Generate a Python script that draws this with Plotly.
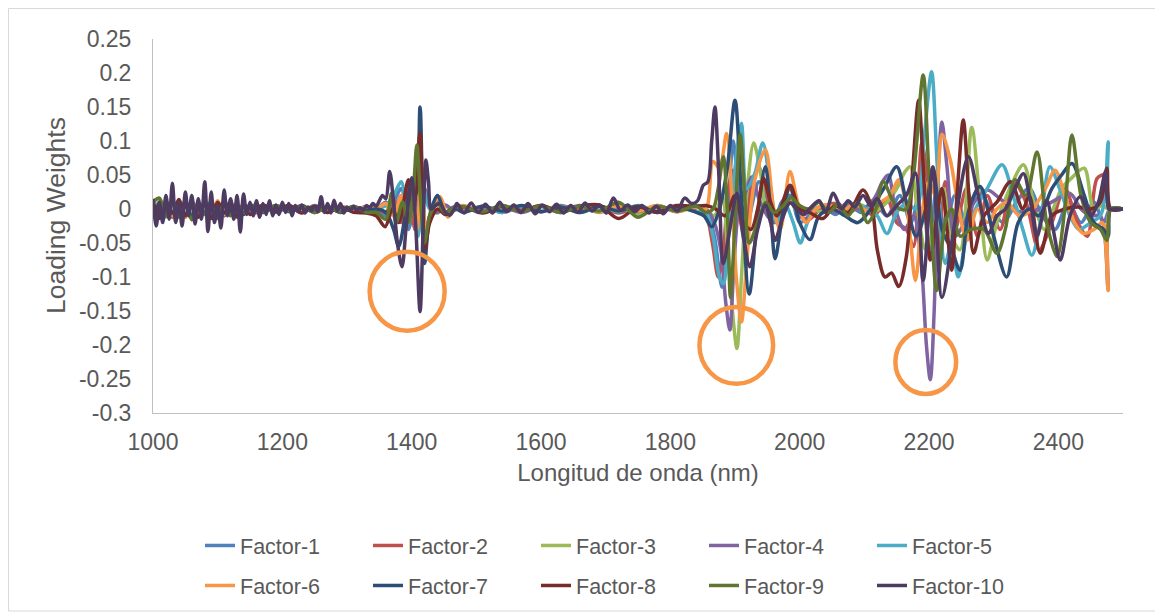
import plotly.graph_objects as go

# ---------------- data ----------------
factor_names = ["Factor-1", "Factor-2", "Factor-3", "Factor-4", "Factor-5",
                "Factor-6", "Factor-7", "Factor-8", "Factor-9", "Factor-10"]
colors = ["#4F81BD", "#C0504D", "#9BBB59", "#8064A2", "#4BACC6",
          "#F79646", "#2C4D75", "#772C2A", "#5F7530", "#4D3B62"]

x_ticks = [1000, 1200, 1400, 1600, 1800, 2000, 2200, 2400]
y_ticks = [0.25, 0.2, 0.15, 0.1, 0.05, 0, -0.05, -0.1, -0.15, -0.2, -0.25, -0.3]
y_ticktext = ["0.25", "0.2", "0.15", "0.1", "0.05", "0", "-0.05", "-0.1", "-0.15", "-0.2", "-0.25", "-0.3"]

# sampling grids (nm)
wl_noise = list(range(1000, 1151, 10))   # 16 samples
wl_flat = list(range(1170, 1331, 20))    # 9 samples
wl_mid = list(range(1480, 1841, 30))     # 13 samples

# ---- Factor-1 ----
f1_noise = [0.01, -0.012, 0.008, -0.01, 0.012, -0.008, 0.006, -0.012, 0.01, -0.006, 0.009, -0.01, 0.007, -0.009, 0.005, -0.006]
f1_flat = [0.004, -0.005, 0.003, -0.004, 0.005, -0.003, 0.004, -0.002, 0.003]
f1_b_wl = [1345, 1360, 1372, 1384, 1395, 1405, 1413, 1420, 1428, 1440, 1452, 1465]
f1_b = [0.0, -0.01, 0.01, 0.03, -0.03, 0.02, 0.06, -0.06, -0.01, 0.012, -0.008, 0.003]
f1_mid = [0.004, -0.004, 0.005, -0.003, 0.004, -0.005, 0.003, -0.004, 0.006, -0.003, 0.004, -0.004, 0.005]
f1_de_wl = [1855, 1868, 1880, 1888, 1897, 1906, 1915, 1925, 1937, 1948, 1960, 1972, 1985, 2000, 2015,
            2035, 2055, 2075, 2095, 2115, 2135, 2155, 2172, 2188, 2200, 2212, 2225, 2240, 2258, 2276,
            2295, 2315, 2335, 2355, 2375, 2395, 2415, 2435, 2455, 2470, 2480, 2500]
f1_de = [0.0, -0.04, -0.115, -0.04, 0.1, 0.02, -0.05, 0.0, 0.04, 0.02, -0.02, 0.01, 0.02, -0.02, -0.01,
         0.005, -0.008, 0.006, -0.005, 0.01, -0.01, 0.02, -0.02, 0.04, -0.06, 0.03, -0.03, 0.02, -0.02, 0.03,
         0.0, -0.02, 0.01, 0.03, -0.01, -0.03, 0.01, -0.02, 0.01, -0.02, 0.0, 0.0]

# ---- Factor-2 ----
f2_noise = [0.012, -0.008, 0.01, -0.012, 0.006, -0.01, 0.012, -0.006, 0.008, -0.01, 0.006, -0.008, 0.01, -0.005, 0.007, -0.004]
f2_flat = [-0.004, 0.005, -0.003, 0.004, -0.005, 0.003, -0.004, 0.003, -0.002]
f2_b_wl = [1345, 1360, 1372, 1384, 1395, 1405, 1413, 1420, 1428, 1440, 1452, 1465]
f2_b = [0.0, -0.005, 0.015, -0.02, 0.03, -0.03, 0.11, -0.04, -0.01, 0.01, -0.005, 0.002]
f2_mid = [-0.003, 0.004, -0.005, 0.003, -0.004, 0.005, -0.003, 0.004, -0.006, 0.003, -0.005, 0.004, -0.003]
f2_de_wl = [1855, 1865, 1874, 1882, 1890, 1897, 1905, 1915, 1926, 1937, 1948, 1960, 1972, 1985, 2000, 2015,
            2035, 2055, 2075, 2095, 2115, 2135, 2150, 2165, 2176, 2189, 2200, 2212, 2225, 2240, 2258,
            2275, 2290, 2310, 2330, 2350, 2370, 2390, 2410, 2430, 2445, 2460, 2472, 2480, 2500]
f2_de = [-0.01, -0.05, -0.1, -0.06, 0.03, 0.057, 0.0, -0.04, 0.04, 0.06, 0.03, -0.02, 0.0, 0.03, -0.01, -0.015,
         0.003, 0.008, -0.006, 0.005, -0.01, 0.015, -0.02, -0.03, -0.055, 0.097, 0.02, -0.08, 0.04, -0.03, 0.03,
         -0.04, 0.02, -0.03, 0.04, 0.01, -0.06, -0.02, 0.03, -0.02, -0.04, 0.045, 0.05, 0.0, 0.0]

# ---- Factor-3 ----
f3_noise = [-0.01, 0.012, -0.006, 0.01, -0.012, 0.008, -0.01, 0.006, -0.008, 0.012, -0.005, 0.008, -0.006, 0.004, -0.007, 0.005]
f3_flat = [0.003, -0.004, 0.005, -0.003, 0.004, -0.004, 0.003, -0.003, 0.002]
f3_b_wl = [1345, 1360, 1372, 1384, 1395, 1405, 1413, 1420, 1428, 1440, 1452, 1465]
f3_b = [0.0, 0.005, -0.01, 0.015, -0.02, 0.03, -0.02, 0.02, 0.0, -0.006, 0.004, -0.002]
f3_mid = [0.003, -0.005, 0.004, -0.003, 0.005, -0.004, 0.004, -0.005, 0.003, -0.008, 0.004, -0.003, 0.004]
f3_de_wl = [1855, 1868, 1880, 1888, 1896, 1903, 1910, 1918, 1929, 1940, 1950, 1960, 1972, 1985, 2000, 2015,
            2035, 2055, 2075, 2095, 2115, 2135, 2150, 2163, 2171, 2182, 2195, 2210, 2222, 2235, 2248,
            2266, 2278, 2290, 2305, 2325, 2346, 2362, 2378, 2392, 2405, 2420, 2440, 2455, 2468, 2477, 2500]
f3_de = [0.0, -0.01, 0.02, -0.05, -0.15, -0.205, -0.1, 0.02, 0.097, 0.05, -0.01, -0.016, 0.0, 0.013, -0.01, 0.0,
         -0.004, 0.005, 0.0, 0.006, -0.004, 0.01, 0.03, 0.055, 0.062, 0.0, -0.06, -0.02, 0.03, -0.04, -0.06,
         0.12, 0.02, -0.075, -0.02, 0.03, 0.065, 0.01, -0.03, 0.0, 0.03, 0.045, 0.06, 0.0, 0.005, 0.0, 0.0]

# ---- Factor-4 ----
f4_noise = [0.008, -0.01, 0.012, -0.008, 0.006, -0.012, 0.01, -0.008, 0.012, -0.006, 0.008, -0.01, 0.006, -0.008, 0.005, -0.004]
f4_flat = [0.005, -0.003, 0.004, -0.005, 0.003, -0.004, 0.002, -0.003, 0.004]
f4_b_wl = [1345, 1360, 1372, 1384, 1395, 1405, 1413, 1420, 1428, 1440, 1452, 1465]
f4_b = [0.0, 0.01, -0.005, 0.02, -0.015, 0.02, -0.03, 0.03, 0.005, -0.005, 0.006, -0.002]
f4_mid = [0.004, -0.003, 0.003, -0.005, 0.004, -0.003, 0.005, -0.004, 0.003, -0.004, 0.005, -0.003, 0.004]
f4_de_wl = [1855, 1868, 1878, 1886, 1892, 1898, 1906, 1915, 1926, 1937, 1950, 1962, 1975, 1988, 2000, 2015,
            2035, 2055, 2075, 2095, 2115, 2128, 2137, 2148, 2162, 2176, 2188, 2196, 2202, 2208, 2214, 2220,
            2228, 2240, 2255, 2270, 2290, 2310, 2330, 2350, 2370, 2395, 2418, 2435, 2450, 2465, 2472, 2477,
            2481, 2500]
f4_de = [0.0, -0.02, -0.06, -0.14, -0.178, -0.09, 0.0, 0.02, 0.047, 0.015, -0.01, -0.02, 0.0, 0.01, -0.01, -0.005,
         0.004, -0.005, 0.01, 0.0, 0.015, 0.04, 0.05, 0.0, -0.03, -0.01, -0.08, -0.2, -0.251, -0.15, 0.05, 0.128,
         0.06, -0.04, -0.02, 0.01, 0.028, 0.015, 0.0, -0.005, 0.0, 0.013, 0.023, 0.0, -0.01, -0.01, -0.04, -0.119,
         0.0, 0.0]

# ---- Factor-5 ----
f5_noise = [-0.006, 0.01, -0.012, 0.008, -0.008, 0.012, -0.01, 0.006, -0.006, 0.01, -0.012, 0.008, -0.005, 0.006, -0.008, 0.004]
f5_flat = [-0.003, 0.004, -0.004, 0.003, -0.005, 0.004, -0.003, 0.002, -0.003]
f5_b_wl = [1345, 1360, 1372, 1384, 1393, 1402, 1410, 1418, 1428, 1440, 1452, 1465]
f5_b = [0.0, 0.005, 0.02, 0.04, -0.02, 0.01, -0.04, 0.03, 0.0, 0.015, -0.008, 0.002]
f5_mid = [-0.004, 0.003, -0.005, 0.004, -0.003, 0.004, -0.005, 0.003, -0.004, 0.005, -0.003, 0.004, -0.004]
f5_de_wl = [1855, 1866, 1876, 1882, 1890, 1900, 1910, 1918, 1930, 1943, 1955, 1965, 1978, 1990, 2001, 2012,
            2025, 2045, 2065, 2085, 2105, 2120, 2135, 2150, 2165, 2180, 2193, 2204, 2213, 2225, 2235, 2245,
            2258, 2272, 2290, 2313, 2330, 2345, 2359, 2372, 2387, 2402, 2418, 2432, 2450, 2465, 2472, 2477,
            2481, 2500]
f5_de = [-0.005, -0.04, -0.1, -0.11, -0.04, 0.06, 0.126, 0.03, 0.05, 0.097, 0.03, -0.02, 0.005, -0.02, -0.05, -0.02,
         0.0, 0.005, -0.004, 0.005, 0.0, -0.01, -0.036, -0.005, 0.008, 0.0, 0.11, 0.202, 0.06, -0.08, -0.05, -0.1,
         -0.04, 0.0, 0.03, 0.065, 0.02, -0.03, -0.068, -0.02, 0.062, 0.03, -0.01, -0.03, -0.02, -0.01, 0.02, 0.099,
         0.0, 0.0]

# ---- Factor-6 ----
f6_noise = [0.014, -0.006, 0.012, -0.01, 0.008, -0.012, 0.006, -0.008, 0.01, -0.006, 0.012, -0.008, 0.006, -0.01, 0.004, -0.005]
f6_flat = [0.004, -0.003, 0.005, -0.004, 0.003, -0.005, 0.004, -0.003, 0.003]
f6_b_wl = [1345, 1360, 1372, 1384, 1393, 1400, 1408, 1415, 1422, 1432, 1444, 1456, 1468]
f6_b = [0.0, 0.008, -0.01, 0.02, -0.01, 0.033, -0.03, 0.05, -0.03, 0.005, 0.018, -0.012, 0.003]
f6_mid = [0.005, -0.004, 0.004, -0.003, 0.005, -0.005, 0.003, -0.004, 0.004, -0.003, 0.005, -0.004, 0.003]
f6_de_wl = [1855, 1866, 1876, 1887, 1895, 1902, 1910, 1918, 1930, 1947, 1960, 1970, 1985, 1997, 2010, 2025,
            2045, 2065, 2085, 2105, 2125, 2140, 2153, 2166, 2179, 2190, 2200, 2210, 2220, 2233, 2246, 2259,
            2275, 2290, 2305, 2320, 2340, 2360, 2380, 2395, 2410, 2425, 2439, 2455, 2468, 2473, 2477, 2481, 2500]
f6_de = [0.0, 0.07, 0.06, 0.111, 0.02, -0.1, -0.166, -0.08, 0.04, 0.087, 0.0, -0.03, 0.055, 0.01, -0.02, 0.0,
         0.006, -0.004, 0.008, -0.003, 0.01, 0.02, 0.043, 0.0, -0.105, 0.0, 0.04, 0.02, 0.11, 0.072, 0.0, -0.046,
         0.0, -0.02, 0.0, 0.01, -0.01, 0.0, 0.03, 0.057, 0.02, -0.02, -0.036, -0.03, -0.02, -0.05, -0.12, 0.0, 0.0]

# ---- Factor-7 ----
f7_noise = [-0.012, 0.008, -0.01, 0.012, -0.006, 0.01, -0.012, 0.008, -0.006, 0.01, -0.008, 0.012, -0.004, 0.006, -0.008, 0.006]
f7_flat = [-0.005, 0.004, -0.003, 0.005, -0.004, 0.003, -0.005, 0.003, -0.002]
f7_b_wl = [1345, 1360, 1372, 1380, 1390, 1398, 1406, 1413, 1420, 1428, 1440, 1452, 1465]
f7_b = [0.0, -0.005, -0.03, -0.055, -0.01, 0.03, 0.02, 0.15, -0.08, -0.01, 0.02, -0.005, 0.002]
f7_mid = [-0.005, 0.004, -0.003, 0.005, -0.004, 0.003, -0.005, 0.004, -0.003, 0.004, -0.005, 0.003, -0.005]
f7_de_wl = [1852, 1864, 1876, 1888, 1900, 1910, 1922, 1935, 1947, 1955, 1962, 1975, 1985, 2000, 2016, 2030,
            2050, 2070, 2090, 2110, 2130, 2150, 2165, 2180, 2195, 2206, 2220, 2235, 2248, 2262, 2279,
            2300, 2320, 2338, 2355, 2370, 2390, 2405, 2421, 2440, 2455, 2470, 2477, 2481, 2500]
f7_de = [-0.01, -0.026, 0.0, 0.06, 0.16, 0.02, -0.125, -0.01, 0.062, 0.0, -0.073, 0.0, 0.033, -0.02, -0.045, -0.01,
         0.0, -0.01, -0.02, 0.0, 0.03, 0.062, 0.01, -0.04, 0.0, 0.06, -0.03, -0.06, -0.09, 0.0, 0.033,
         -0.04, -0.1, -0.02, 0.0, -0.01, 0.03, 0.05, 0.067, 0.02, -0.02, -0.03, -0.04, 0.0, 0.0]

# ---- Factor-8 ----
f8_noise = [0.012, -0.014, 0.01, -0.006, 0.014, -0.01, 0.006, -0.012, 0.008, -0.014, 0.01, -0.006, 0.008, -0.012, 0.006, -0.008]
f8_flat = [0.006, -0.004, 0.005, -0.006, 0.004, -0.005, 0.003, -0.005, -0.006]
f8_b_wl = [1345, 1359, 1370, 1380, 1395, 1403, 1413, 1420, 1428, 1440, 1452, 1465]
f8_b = [-0.01, -0.026, 0.0, -0.02, 0.043, 0.0, 0.112, -0.06, -0.02, 0.0, -0.008, 0.002]
f8_mid = [0.003, -0.006, 0.004, -0.003, 0.005, -0.004, 0.004, 0.006, -0.014, 0.003, -0.004, 0.005, 0.004]
f8_de_wl = [1855, 1870, 1885, 1900, 1912, 1925, 1935, 1944, 1955, 1965, 1985, 2000, 2015,
            2036, 2055, 2075, 2098, 2112, 2120, 2132, 2142, 2153, 2165, 2175, 2184, 2193, 2202, 2212, 2220,
            2228, 2235, 2244, 2253, 2261, 2269, 2285, 2305, 2326, 2345, 2355, 2372, 2390, 2410, 2430, 2450,
            2465, 2475, 2481, 2500]
f8_de = [0.005, 0.0, -0.01, 0.02, -0.02, -0.03, 0.0, 0.045, 0.01, -0.01, 0.035, 0.0, -0.005,
         -0.014, 0.005, -0.005, 0.028, 0.0, -0.06, -0.1, -0.094, -0.114, -0.07, 0.06, 0.16, 0.03, -0.075, -0.01, 0.03,
         -0.03, -0.09, 0.03, 0.131, 0.03, -0.065, -0.01, 0.01, 0.04, 0.0, 0.02, -0.065, -0.01, 0.0, 0.003, 0.0,
         0.01, 0.06, 0.0, 0.0]

# ---- Factor-9 ----
f9_noise = [0.01, 0.016, -0.01, 0.012, -0.012, 0.006, -0.016, 0.01, -0.008, 0.006, -0.014, 0.008, -0.01, 0.005, -0.006, 0.004]
f9_flat = [-0.004, 0.005, -0.003, 0.004, -0.005, 0.003, -0.004, 0.004, -0.005]
f9_b_wl = [1345, 1360, 1369, 1376, 1386, 1395, 1402, 1408, 1414, 1420, 1428, 1440, 1452, 1465]
f9_b = [-0.005, -0.015, 0.023, -0.02, 0.01, -0.02, 0.02, 0.094, 0.01, -0.05, -0.01, 0.008, -0.006, 0.002]
f9_mid = [0.003, -0.004, 0.005, -0.003, 0.004, -0.005, 0.004, -0.003, 0.01, -0.012, 0.004, -0.003, 0.004]
f9_de_wl = [1855, 1866, 1874, 1882, 1888, 1893, 1900, 1908, 1915, 1922, 1935, 1948, 1960, 1975, 1987, 2000, 2015,
            2030, 2045, 2060, 2075, 2090, 2105, 2118, 2129, 2145, 2155, 2165, 2176, 2191, 2200, 2212, 2225,
            2235, 2248, 2265, 2285, 2305, 2318, 2333, 2350, 2367, 2382, 2398, 2410, 2421, 2435, 2450, 2465,
            2475, 2481, 2500]
f9_de = [-0.005, 0.0, 0.03, 0.077, 0.0, -0.13, -0.02, 0.11, 0.02, -0.05, -0.02, 0.01, -0.005, 0.005, 0.017, 0.005, 0.0,
         0.01, -0.005, 0.008, -0.01, 0.01, -0.02, 0.0, 0.04, 0.01, 0.0, 0.0, 0.05, 0.197, 0.05, -0.12, -0.02,
         0.0, -0.04, -0.03, -0.03, -0.065, -0.03, 0.043, 0.02, 0.084, -0.02, -0.07, 0.0, 0.109, 0.02, -0.02, -0.03,
         -0.046, 0.0, 0.0]

# ---- Factor-10 ----
f10_noise_wl = list(range(1000, 1346, 5))   # 70 samples
f10_noise = [0.015, -0.025, 0.01, -0.02, 0.02, -0.015, 0.038, -0.02, 0.01, -0.025,
             0.025, -0.01, 0.02, -0.022, 0.015, -0.015, 0.04, -0.033, 0.025, -0.02,
             0.005, -0.028, 0.028, -0.01, 0.015, -0.015, 0.02, -0.034, 0.022, -0.008,
             0.01, -0.01, 0.012, -0.012, 0.008, -0.008, 0.012, -0.01, 0.006, -0.008,
             0.01, -0.005, 0.008, -0.01, 0.005, -0.004, 0.006, -0.006, 0.003, -0.003,
             0.004, -0.004, 0.018, -0.005, 0.008, -0.006, 0.013, -0.003, 0.008, -0.006,
             0.003, -0.002, 0.004, -0.003, 0.002, -0.002, 0.005, 0.002, 0.008, 0.004]
f10_b_wl = [1350, 1355, 1360, 1366, 1372, 1378, 1385, 1392, 1400, 1406, 1413, 1418, 1422, 1426, 1430,
            1437, 1444, 1452, 1459, 1466]
f10_b = [0.012, 0.02, 0.015, 0.055, 0.01, -0.05, -0.085, -0.02, 0.046, -0.02, -0.151, -0.02, 0.072, 0.04, 0.0,
         0.005, 0.008, -0.005, -0.009, 0.0]
f10_mid_wl = [1470, 1481, 1492, 1503, 1514, 1525, 1536, 1547, 1558, 1569, 1580, 1591, 1602, 1613, 1624, 1635,
              1646, 1657, 1668, 1679, 1690, 1701, 1712, 1723, 1734, 1745, 1756, 1767, 1778, 1789, 1800, 1811,
              1822, 1833, 1842]
f10_mid = [0.008, -0.006, 0.009, -0.005, 0.007, -0.006, 0.01, -0.004, 0.006, -0.005, 0.008, -0.007, 0.006, -0.004,
           0.007, -0.006, 0.005, -0.005, 0.009, -0.003, 0.006, -0.006, 0.016, -0.002, 0.006, -0.004, 0.005, -0.006,
           0.004, -0.007, 0.005, -0.003, 0.016, 0.008, 0.012]
f10_de_wl = [1851, 1858, 1864, 1869, 1875, 1882, 1892, 1903, 1913, 1923, 1935, 1947, 1955, 1962, 1973, 1985, 1995,
             2005, 2015, 2030, 2040, 2052, 2065, 2075, 2085, 2098, 2110, 2120, 2135, 2150, 2165, 2179, 2191,
             2206, 2220, 2240, 2261, 2276, 2292, 2305, 2318, 2333, 2346, 2357, 2367, 2382, 2392, 2403, 2418,
             2434, 2450, 2462, 2473, 2478, 2485, 2500]
f10_de = [0.035, 0.04, 0.1, 0.15, 0.05, -0.08, -0.03, 0.023, -0.04, -0.085, -0.03, 0.006, -0.02, -0.046, -0.015, 0.009, 0.0,
          -0.008, 0.0, 0.012, -0.005, 0.023, 0.0, 0.012, 0.003, 0.02, 0.005, 0.015, -0.01, 0.005, 0.02, 0.053, -0.105,
          0.062, -0.13, -0.02, 0.077, 0.02, -0.036, -0.01, 0.0, 0.03, 0.052, 0.01, -0.04, 0.013, -0.03, -0.075, -0.01,
          0.018, -0.01, 0.01, 0.055, 0.0, 0.0, 0.0]

# ---------------- assemble series ----------------
series_x = []
series_y = []
std = [
    (f1_noise, f1_flat, f1_b_wl, f1_b, f1_mid, f1_de_wl, f1_de),
    (f2_noise, f2_flat, f2_b_wl, f2_b, f2_mid, f2_de_wl, f2_de),
    (f3_noise, f3_flat, f3_b_wl, f3_b, f3_mid, f3_de_wl, f3_de),
    (f4_noise, f4_flat, f4_b_wl, f4_b, f4_mid, f4_de_wl, f4_de),
    (f5_noise, f5_flat, f5_b_wl, f5_b, f5_mid, f5_de_wl, f5_de),
    (f6_noise, f6_flat, f6_b_wl, f6_b, f6_mid, f6_de_wl, f6_de),
    (f7_noise, f7_flat, f7_b_wl, f7_b, f7_mid, f7_de_wl, f7_de),
    (f8_noise, f8_flat, f8_b_wl, f8_b, f8_mid, f8_de_wl, f8_de),
    (f9_noise, f9_flat, f9_b_wl, f9_b, f9_mid, f9_de_wl, f9_de),
]
for nz, fl, bw, bv, md, dw, dv in std:
    series_x.append(wl_noise + wl_flat + bw + wl_mid + dw)
    series_y.append(nz + fl + bv + md + dv)
series_x.append(f10_noise_wl + f10_b_wl + f10_mid_wl + f10_de_wl)
series_y.append(f10_noise + f10_b + f10_mid + f10_de)

# ---------------- figure ----------------
# the page body has an 8px margin, so the figure is offset by 8px
OFF = 8
PLOT_L, PLOT_R, PLOT_T, PLOT_B = 153, 1123, 39, 413      # page coordinates of plot area
W, H = 1155, 606
ML, MT = PLOT_L - OFF, PLOT_T - OFF
MR = W - (PLOT_R - OFF)
MB = H - (PLOT_B - OFF)
PW, PH = PLOT_R - PLOT_L, PLOT_B - PLOT_T

def px_x(p):
    return (p - PLOT_L) / PW

def px_y(p):
    return (PLOT_B - p) / PH

fig = go.Figure()
for i in range(10):
    fig.add_trace(go.Scatter(
        x=series_x[i], y=series_y[i], mode="lines", name=factor_names[i],
        line=dict(color=colors[i], width=3.5, shape="spline", smoothing=0.9),
        legend="legend" if i < 5 else "legend2",
    ))

font_family = "Liberation Sans, Arial, sans-serif"
tick_color = "#595959"

fig.update_layout(
    width=W, height=H,
    margin=dict(l=ML, r=MR, t=MT, b=MB, autoexpand=False),
    paper_bgcolor="white", plot_bgcolor="white",
    font=dict(family=font_family, size=22, color=tick_color),
    xaxis=dict(range=[1000, 2500], tickvals=x_ticks, ticktext=[str(v) for v in x_ticks],
               showgrid=False, zeroline=False, showline=True, linecolor="#BFBFBF", linewidth=1,
               ticks="", ticklabelstandoff=8, automargin=False,
               title=dict(text="Longitud de onda (nm)", standoff=10, font=dict(size=24, color=tick_color)),
               tickfont=dict(size=23, color=tick_color)),
    yaxis=dict(range=[-0.3, 0.25], tickvals=y_ticks, ticktext=y_ticktext,
               showgrid=False, zeroline=False, showline=True, linecolor="#BFBFBF", linewidth=1,
               ticks="", ticklabelstandoff=16, automargin=False,
               tickfont=dict(size=23, color=tick_color)),
    legend=dict(orientation="h", x=px_x(200), y=px_y(525), xanchor="left", yanchor="top",
                entrywidth=123, entrywidthmode="pixels", font=dict(size=21.5, color=tick_color),
                bgcolor="rgba(0,0,0,0)", itemclick=False),
    legend2=dict(orientation="h", x=px_x(200), y=px_y(565), xanchor="left", yanchor="top",
                 entrywidth=123, entrywidthmode="pixels", font=dict(size=21.5, color=tick_color),
                 bgcolor="rgba(0,0,0,0)", itemclick=False),
    showlegend=True,
)

# y-axis title placed like the original
fig.add_annotation(text="Loading Weights", textangle=-90, xref="paper", yref="paper",
                   x=px_x(56), y=px_y(216), xanchor="center", yanchor="middle", showarrow=False,
                   font=dict(size=26.5, color=tick_color))

# orange highlight circles (data coordinates)
circles = [((1335, 1451), (-0.063, -0.179)),
           ((1845, 1959), (-0.144, -0.257)),
           ((2148, 2242), (-0.178, -0.272))]
for (xa, xb), (ya, yb) in circles:
    fig.add_shape(type="circle", xref="x", yref="y", x0=xa, x1=xb, y0=yb, y1=ya,
                  line=dict(color="#F79646", width=4.5))

# chart border
fig.add_shape(type="rect", xref="paper", yref="paper",
              x0=px_x(8.5), x1=px_x(1160.5), y0=px_y(611), y1=px_y(8.5),
              line=dict(color="#D9D9D9", width=1), layer="below")

fig.write_html("out.html")
